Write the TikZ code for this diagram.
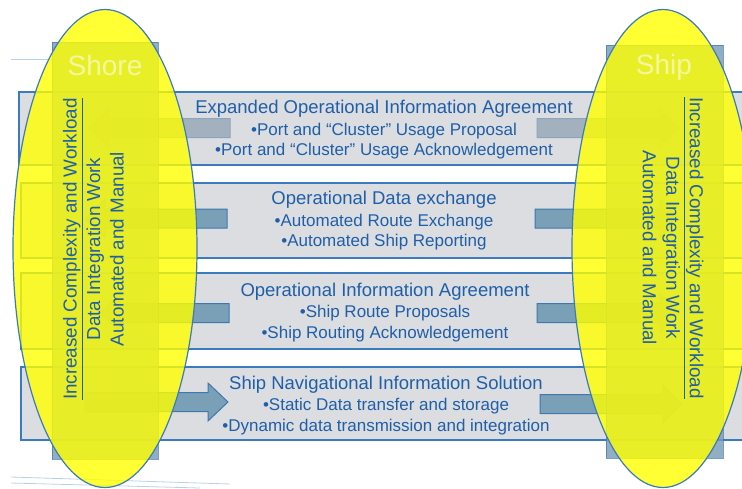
\documentclass[tikz,border=0pt]{standalone}
\usepackage{fontspec}
\setmainfont{Liberation Sans}

\definecolor{bandgray}{HTML}{DCDDE0}
\definecolor{edgeblue}{HTML}{3A7BBF}
\definecolor{inkblue}{HTML}{1F5FA8}
\definecolor{steel}{HTML}{7AA0B8}
\definecolor{steeledge}{HTML}{3F78B0}
\definecolor{fadedsteel}{HTML}{A2B1BD}
\definecolor{fadededge}{HTML}{8BA5BD}
\definecolor{zoneyellow}{HTML}{FFFF00}
\definecolor{columnblue}{HTML}{7A9CB8}
\definecolor{slideline}{HTML}{B4D2EA}

\tikzset{
  band/.style={fill=bandgray, draw=edgeblue, line width=1.4pt},
  arrowbox/.style={fill=steel, draw=steeledge, line width=1pt},
  fadedarrow/.style={fill=fadedsteel, draw=fadededge, line width=1pt},
  column/.style={fill=columnblue, draw=steeledge, line width=0.8pt, fill opacity=0.82, draw opacity=0.7},
  zone/.style={fill=zoneyellow, fill opacity=0.8, draw=edgeblue, line width=1.2pt},
  bandtext/.style={text=inkblue, align=center, inner sep=0pt, font=\fontsize{17}{20.5}\selectfont},
  sidetext/.style={text=inkblue, align=center, inner sep=0pt, font=\fontsize{18.8}{23.5}\selectfont},
  headtext/.style={text=white, text opacity=0.55, inner sep=0pt, font=\fontsize{28}{30}\selectfont},
}

% block arrow: [style]{tail x}{head base x}{tip x}{y}
\newcommand{\blockarrow}[5][]{%
  \draw[#1] (#2,{#5-9.5}) -- (#3,{#5-9.5}) -- (#3,{#5-19}) -- (#4,#5)
    -- (#3,{#5+19}) -- (#3,{#5+9.5}) -- (#2,{#5+9.5}) -- cycle;}
\newcommand{\bandtitle}[1]{{\fontsize{18.5}{20.5}\selectfont #1}}

\begin{document}
\begin{tikzpicture}[x=1pt, y=-1pt]
  \useasboundingbox (0,0) rectangle (742,488);
  \clip (0,0) rectangle (742,488);

  % slide rules
  \draw[slideline, line width=0.8pt] (11,59) -- (52,59);
  \draw[slideline, line width=0.8pt] (11,477) -- (230,484);
  \draw[slideline, line width=0.8pt] (11,483) -- (200,488);

  % the four bands
  \draw[band] (19,92) rectangle (760,165);
  \draw[band] (21,183) rectangle (760,258);
  \draw[band] (21,273) rectangle (760,349);
  \draw[band] (21,367) rectangle (760,440);

  % arrows in and out of each band
  \blockarrow[fadedarrow]{230}{108}{88}{128}
  \blockarrow[fadedarrow]{537}{660}{680}{128}
  \blockarrow[arrowbox]{227}{105}{85}{218.5}
  \blockarrow[arrowbox]{535}{660}{680}{218.5}
  \blockarrow[arrowbox]{229}{120}{100}{313}
  \blockarrow[arrowbox]{537}{660}{680}{313}
  \blockarrow[arrowbox]{85}{208}{228}{402}
  \blockarrow[arrowbox]{540}{663}{682}{404}

  % shore and ship columns
  \draw[column] (52,42) rectangle (158,459);
  \draw[column] (606,45) rectangle (723,458);

  % highlighted zones
  \draw[zone] (105,248.5) ellipse [x radius=92pt, y radius=239pt];
  \draw[zone] (663,248.5) ellipse [x radius=91pt, y radius=239pt];

  % band contents
  \node[bandtext] (expanded) at (384,130)
    {\bandtitle{Expanded Operational Information Agreement}\\[1pt]
     •Port and “Cluster” Usage Proposal\\
     •Port and “Cluster” Usage Acknowledgement};
  \node[bandtext] (exchange) at (384,221)
    {\bandtitle{Operational Data exchange}\\[1pt]
     •Automated Route Exchange\\
     •Automated Ship Reporting};
  \node[bandtext] (agreement) at (385,312.5)
    {\bandtitle{Operational Information Agreement}\\[1pt]
     •Ship Route Proposals\\
     •Ship Routing Acknowledgement};
  \node[bandtext] (solution) at (386,405.5)
    {\bandtitle{Ship Navigational Information Solution}\\[1pt]
     •Static Data transfer and storage\\
     •Dynamic data transmission and integration};

  % column labels
  \node[headtext] (shore) at (105,65) {Shore};
  \node[headtext] (ship) at (664,67) {Ship};
  \node[sidetext, rotate=90] (shoretext) at (93.5,249)
    {\underline{Increased Complexity and Workload}\\
     Data Integration Work\\
     Automated and Manual};
  \node[sidetext, rotate=-90] (shiptext) at (673,248)
    {\underline{Increased Complexity and Workload}\\
     Data Integration Work\\
     Automated and Manual};
\end{tikzpicture}
\end{document}
